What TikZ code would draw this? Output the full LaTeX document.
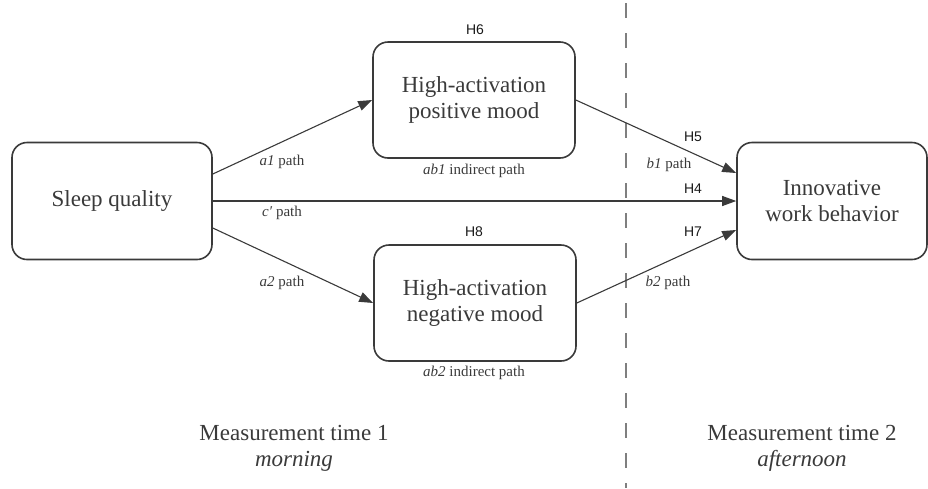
\documentclass[tikz,border=0pt]{standalone}
\usepackage{fontspec}
\setmainfont{Liberation Serif}
\newfontfamily\hsans{Liberation Sans}
\usetikzlibrary{arrows.meta,positioning}
\definecolor{ink}{HTML}{3A3A3A}
\definecolor{divider}{HTML}{7F7F7F}
\tikzset{
  varbox/.style={draw=ink, line width=1.6pt, rounded corners=15pt, inner sep=0pt,
    minimum width=202pt, minimum height=116pt, align=center, text=ink,
    font=\fontsize{23}{26}\selectfont},
  link/.style={draw=ink, line width=1.1pt, -{Triangle[length=14pt,width=10pt]}},
  pathlabel/.style={text=ink, font=\fontsize{15}{17}\selectfont},
  hyp/.style={text=black!90, font=\hsans\fontsize{14}{16}\selectfont},
  timelabel/.style={text=ink, anchor=base, font=\fontsize{23}{26}\selectfont},
}

\begin{document}
\begin{tikzpicture}[x=1pt, y=-1pt]
      \useasboundingbox (0,0) rectangle (928,488);
      % divider between the two measurement times
      \coordinate (divtop) at (626,3);
      \coordinate (divbot) at (626,488);
      \draw[divider, line width=1.4pt, dash pattern=on 15pt off 15pt] (divtop) -- (divbot);

      % variables
      \node[varbox, minimum width=200pt, minimum height=117pt] (sleep) at (112,201) {Sleep quality};
      \node[varbox] (pos) at (474,100) {High-activation\\positive mood};
      \node[varbox] (neg) at (475,303) {High-activation\\negative mood};
      \node[varbox, minimum width=190pt, minimum height=117pt] (inn) at (832,201) {Innovative\\work behavior};

      % paths
      \draw[link] ([yshift=27pt]sleep.east) -- (pos.west);
      \draw[link] ([yshift=-27pt]sleep.east) -- (neg.west);
      \draw[link] (sleep.east) -- (inn.west);
      \draw[link] (pos.east) -- ([yshift=28pt]inn.west);
      \draw[link] (neg.east) -- ([yshift=-29pt]inn.west);

      % path labels
      \node[pathlabel] (la1) at (282,162) {\textit{a1} path};
      \node[pathlabel] (lc) at (282,213) {\textit{c′} path};
      \node[pathlabel] (la2) at (282,283) {\textit{a2} path};
      \node[pathlabel] (lab1) at (474,171) {\textit{ab1} indirect path};
      \node[pathlabel] (lab2) at (474,373) {\textit{ab2} indirect path};
      \node[pathlabel] (lb1) at (669,165) {\textit{b1} path};
      \node[pathlabel] (lb2) at (668,283) {\textit{b2} path};

      % hypotheses
      \foreach \x/\y/\h in {475/30/6, 693/137/5, 693/189/4, 693/232/7, 474/232/8}{
        \node[hyp] (h\h) at (\x,\y) {H\h};
      }

      % measurement times
      \node[timelabel] (t1) at (294,440) {Measurement time 1};
      \node[timelabel] (t1b) at (294,466) {\textit{morning}};
      \node[timelabel] (t2) at (802,440) {Measurement time 2};
      \node[timelabel] (t2b) at (802,466) {\textit{afternoon}};
    \end{tikzpicture}
\end{document}
